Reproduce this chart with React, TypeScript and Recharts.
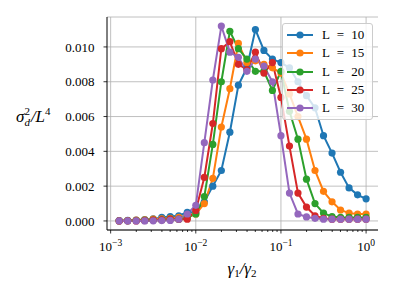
import React from 'react';
import { LineChart, Line, XAxis, YAxis, CartesianGrid, Legend, ReferenceLine } from 'recharts';

const FONT = '"Liberation Serif", "DejaVu Serif", serif';

// gamma1/gamma2 sample points (0.1 decade steps)
const xValues = [
  0.001259, 0.001585, 0.001995, 0.002512, 0.003162, 0.003981, 0.005012, 0.00631, 0.007943, 0.01,
  0.01259, 0.01585, 0.01995, 0.02512, 0.03162, 0.03981, 0.05012, 0.0631, 0.07943, 0.1,
  0.1259, 0.1585, 0.1995, 0.2512, 0.3162, 0.3981, 0.5012, 0.631, 0.7943, 1,
];

const l10 = [
  0.00002, 0.00003, 0.00005, 0.00008, 0.00012, 0.0002, 0.00025, 0.0003, 0.0005, 0.0005,
  0.0011, 0.002, 0.0029, 0.0051, 0.0078, 0.0088, 0.011, 0.0098, 0.0093, 0.0091,
  0.0088, 0.008, 0.0072, 0.0065, 0.0049, 0.0039, 0.0028, 0.0019, 0.0015, 0.00127,
];
const l15 = [
  0.00001, 0.00002, 0.00005, 0.00006, 0.0001, 0.00012, 0.00015, 0.0002, 0.0003, 0.0004,
  0.001, 0.00245, 0.0054, 0.0076, 0.0102, 0.0091, 0.0092, 0.009, 0.0088, 0.0085,
  0.0073, 0.006, 0.0047, 0.0029, 0.0017, 0.0011, 0.00063, 0.00045, 0.0004, 0.0004,
];
const l20 = [
  0.00001, 0.00001, 0.00002, 0.00003, 0.00005, 0.00006, 0.0001, 0.0001, 0.0002, 0.0004,
  0.0014, 0.0044, 0.008, 0.0109, 0.0099, 0.0093, 0.0086, 0.0086, 0.0075, 0.0086,
  0.0063, 0.0047, 0.0024, 0.001, 0.00045, 0.00025, 0.0002, 0.0002, 0.0002, 0.0002,
];
const l25 = [
  0, 0.00001, 0, 0.00002, 0.00005, 0.00006, 0.0001, 0.0001, 0.0001, 0.0006,
  0.0025, 0.0056, 0.0099, 0.0103, 0.009, 0.0087, 0.0097, 0.0085, 0.0091, 0.0071,
  0.0043, 0.0016, 0.0008, 0.0003, 0.00015, 0.0001, 0.0001, 0.0001, 0.0001, 0.0001,
];
const l30 = [
  0, 0, 0, 0, 0.00001, 0.00002, 0.00003, 0.0001, 0.0004, 0.0009,
  0.0045, 0.0081, 0.0112, 0.0097, 0.0094, 0.0086, 0.0093, 0.0089, 0.008, 0.0049,
  0.0016, 0.0004, 0.00023, 0.00015, 0.0001, 0.0001, 0.0001, 0.0001, 0.0001, 0.0001,
];

const seriesKeys = ['L10', 'L15', 'L20', 'L25', 'L30'];
const seriesNames = ['L = 10', 'L = 15', 'L = 20', 'L = 25', 'L = 30'];
const colors = ['#1f77b4', '#ff7f0e', '#2ca02c', '#d62728', '#9467bd'];

const xMajorTicks = [0.001, 0.01, 0.1, 1];
const xMinorTicks = [
  0.002, 0.003, 0.004, 0.005, 0.006, 0.007, 0.008, 0.009,
  0.02, 0.03, 0.04, 0.05, 0.06, 0.07, 0.08, 0.09,
  0.2, 0.3, 0.4, 0.5, 0.6, 0.7, 0.8, 0.9,
];
const yTicks = [0, 0.002, 0.004, 0.006, 0.008, 0.01];

const data = xValues.map((x, i) => ({
  x,
  L10: l10[i],
  L15: l15[i],
  L20: l20[i],
  L25: l25[i],
  L30: l30[i],
}));

const XTick = (props: any) => {
  const { x, y, payload } = props;
  const v = payload.value;
  const major = xMajorTicks.includes(v);
  const exp = Math.round(Math.log10(v));
  return (
    <g>
      <line x1={x} x2={x} y1={y} y2={y + (major ? 3.5 : 2)} stroke="#000" strokeWidth={0.8} />
      {major && (
        <text x={x} y={y + 21} textAnchor="middle" fontFamily={FONT} fontSize={13} fill="#000">
          10
          <tspan dy={-5} fontSize={9.5}>{exp === 0 ? '0' : '\u2212' + Math.abs(exp)}</tspan>
        </text>
      )}
    </g>
  );
};

const YLabel = () => (
  <text x={16} y={122} fontFamily={FONT} fontSize={17} fontStyle="italic" fill="#000">
    σ
    <tspan dy={-7} fontSize={11} fontStyle="normal">2</tspan>
    <tspan dx={-5.5} dy={11} fontSize={11}>d</tspan>
    <tspan dx={1} dy={-4} fontSize={17}>/L</tspan>
    <tspan dy={-7} fontSize={11} fontStyle="normal">4</tspan>
  </text>
);

const XLabel = () => (
  <text x={242} y={274} textAnchor="middle" fontFamily={FONT} fontSize={17} fontStyle="italic" fill="#000">
    γ
    <tspan dy={3} fontSize={11} fontStyle="normal">1</tspan>
    <tspan dy={-3}>/γ</tspan>
    <tspan dy={3} fontSize={11} fontStyle="normal">2</tspan>
  </text>
);

const PanelLabel = () => (
  <text x={121} y={42} fontFamily={FONT} fontSize={14} fill="#000">
    (b)
  </text>
);

const LegendBox = () => (
  <div
    style={{
      background: 'rgba(255,255,255,0.8)',
      border: '1px solid #cccccc',
      borderRadius: 3,
      padding: '2px 0',
      width: 89,
      boxSizing: 'content-box',
    }}
  >
    {seriesNames.map((name, i) => (
      <div key={name} style={{ display: 'flex', alignItems: 'center', height: 18.3 }}>
        <svg width={35} height={10} style={{ marginLeft: 4 }}>
          <line x1={0} x2={26} y1={5} y2={5} stroke={colors[i]} strokeWidth={2} />
          <circle cx={13} cy={5} r={3.6} fill={colors[i]} />
        </svg>
        <span style={{ fontFamily: FONT, fontSize: 13, color: '#000', wordSpacing: 4 }}>{name}</span>
      </div>
    ))}
  </div>
);

export default function App() {
  return (
    <div style={{ position: 'absolute', left: 0, top: 0 }}>
      <LineChart width={396} height={294} data={data} margin={{ top: 17, right: 18, bottom: 24, left: 47 }}>
        <CartesianGrid stroke="#b0b0b0" strokeWidth={0.8} vertical={false} />
        {xMajorTicks.map((v) => (
          <ReferenceLine key={v} x={v} stroke="#b0b0b0" strokeWidth={0.8} ifOverflow="hidden" />
        ))}
        <XAxis
          dataKey="x"
          type="number"
          scale="log"
          domain={[0.000906, 1.38]}
          allowDataOverflow
          ticks={[...xMajorTicks, ...xMinorTicks]}
          interval={0}
          tick={<XTick />}
          tickLine={false}
          tickSize={0}
          tickMargin={0}
          height={40}
          axisLine={{ stroke: '#000', strokeWidth: 1 }}
          label={{ content: () => <XLabel /> }}
        />
        <XAxis
          xAxisId="top"
          orientation="top"
          height={0}
          tick={false}
          tickLine={false}
          axisLine={{ stroke: '#000', strokeWidth: 1 }}
          label={{ content: () => <PanelLabel /> }}
        />
        <YAxis
          type="number"
          domain={[-0.00052, 0.01172]}
          allowDataOverflow
          ticks={yTicks}
          interval={0}
          tickFormatter={(v: number) => v.toFixed(3)}
          tick={{ fontFamily: FONT, fontSize: 13, fill: '#000' }}
          tickLine={{ stroke: '#000', strokeWidth: 0.8 }}
          tickSize={3.5}
          tickMargin={9}
          width={60}
          axisLine={{ stroke: '#000', strokeWidth: 1 }}
          label={{ content: () => <YLabel /> }}
        />
        <YAxis
          yAxisId="right"
          orientation="right"
          width={0}
          tick={false}
          tickLine={false}
          axisLine={{ stroke: '#000', strokeWidth: 1 }}
        />
        {seriesKeys.map((k, i) => (
          <Line
            key={k}
            dataKey={k}
            name={seriesNames[i]}
            type="linear"
            stroke={colors[i]}
            strokeWidth={2}
            dot={{ r: 3.6, fill: colors[i], stroke: colors[i], strokeWidth: 0 }}
            activeDot={false}
            isAnimationActive={false}
          />
        ))}
        <Legend
          layout="vertical"
          align="center"
          verticalAlign="middle"
          content={() => <LegendBox />}
          wrapperStyle={{ position: 'absolute', left: 282, top: 23, width: 91, height: 'auto' }}
        />
      </LineChart>
    </div>
  );
}
